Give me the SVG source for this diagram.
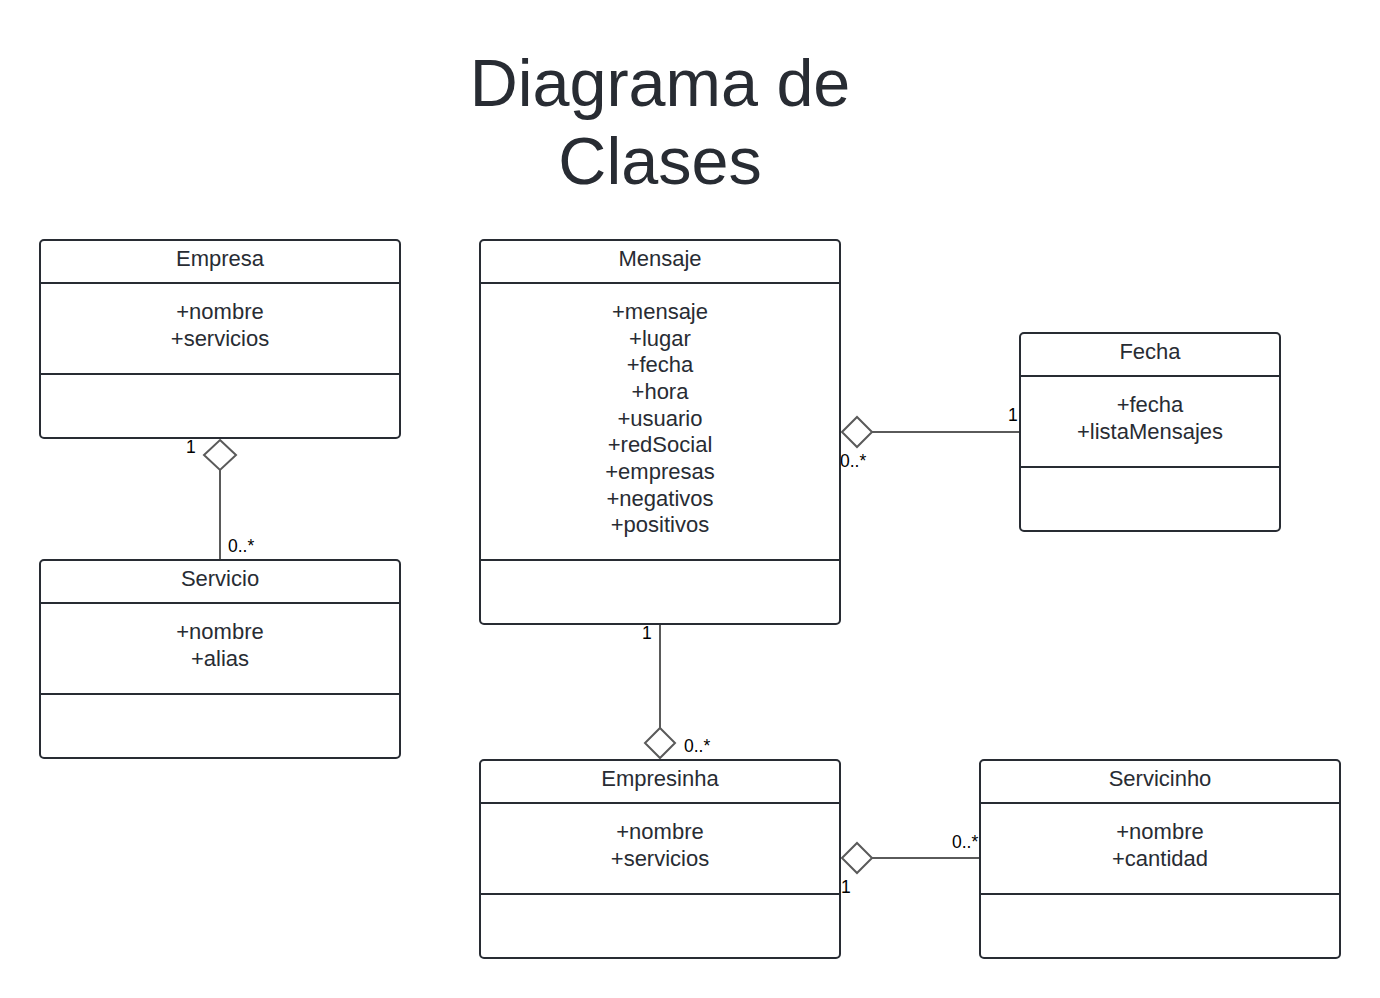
<svg xmlns="http://www.w3.org/2000/svg" width="1380" height="998" viewBox="0 0 1380 998">
<style>
.box{fill:#fff;stroke:#282c33;stroke-width:2}
.div{stroke:#282c33;stroke-width:2}
.t{font-family:"Liberation Sans",Arial,sans-serif;fill:#282c33;text-anchor:middle}
.h{font-size:22px}
.a{font-size:22px}
.title{font-size:66.5px}
.c{fill:none;stroke:#5a5a5a;stroke-width:2}
.d{fill:#fff;stroke:#5a5a5a;stroke-width:2}
.l{font-family:"Liberation Sans",Arial,sans-serif;font-size:17.5px;fill:#000}
</style>
<rect width="1380" height="998" fill="#fff"/>
<g id="title">
<text class="t title" x="660" y="106">Diagrama de</text>
<text class="t title" x="660" y="184">Clases</text>
</g>
<g id="connectors">
<line class="c" x1="220" y1="470" x2="220" y2="560"/>
<polygon class="d" points="220,440 236,455 220,470 204,455"/>
<text class="l" x="186" y="453">1</text>
<text class="l" x="228" y="552">0..*</text>
<line class="c" x1="872" y1="432" x2="1020" y2="432"/>
<polygon class="d" points="842,432 857,417 872,432 857,447"/>
<text class="l" x="1008" y="421">1</text>
<text class="l" x="840" y="467">0..*</text>
<line class="c" x1="660" y1="624" x2="660" y2="728"/>
<polygon class="d" points="660,728 675,743 660,758 645,743"/>
<text class="l" x="642" y="639">1</text>
<text class="l" x="684" y="752">0..*</text>
<line class="c" x1="872" y1="858" x2="980" y2="858"/>
<polygon class="d" points="842,858 857,843 872,858 857,873"/>
<text class="l" x="952" y="848">0..*</text>
<text class="l" x="841" y="893">1</text>
</g>
<g id="Empresa">
<rect class="box" x="40" y="240" width="360" height="198" rx="4"/>
<line class="div" x1="40" y1="283" x2="400" y2="283"/>
<line class="div" x1="40" y1="374" x2="400" y2="374"/>
<text class="t h" x="220" y="266">Empresa</text>
<text class="t a" x="220" y="319">+nombre</text>
<text class="t a" x="220" y="346">+servicios</text>
</g>
<g id="Servicio">
<rect class="box" x="40" y="560" width="360" height="198" rx="4"/>
<line class="div" x1="40" y1="603" x2="400" y2="603"/>
<line class="div" x1="40" y1="694" x2="400" y2="694"/>
<text class="t h" x="220" y="586">Servicio</text>
<text class="t a" x="220" y="639">+nombre</text>
<text class="t a" x="220" y="666">+alias</text>
</g>
<g id="Mensaje">
<rect class="box" x="480" y="240" width="360" height="384" rx="4"/>
<line class="div" x1="480" y1="283" x2="840" y2="283"/>
<line class="div" x1="480" y1="560" x2="840" y2="560"/>
<text class="t h" x="660" y="266">Mensaje</text>
<text class="t a" x="660" y="319">+mensaje</text>
<text class="t a" x="660" y="346">+lugar</text>
<text class="t a" x="660" y="372">+fecha</text>
<text class="t a" x="660" y="399">+hora</text>
<text class="t a" x="660" y="426">+usuario</text>
<text class="t a" x="660" y="452">+redSocial</text>
<text class="t a" x="660" y="479">+empresas</text>
<text class="t a" x="660" y="506">+negativos</text>
<text class="t a" x="660" y="532">+positivos</text>
</g>
<g id="Fecha">
<rect class="box" x="1020" y="333" width="260" height="198" rx="4"/>
<line class="div" x1="1020" y1="376" x2="1280" y2="376"/>
<line class="div" x1="1020" y1="467" x2="1280" y2="467"/>
<text class="t h" x="1150" y="359">Fecha</text>
<text class="t a" x="1150" y="412">+fecha</text>
<text class="t a" x="1150" y="439">+listaMensajes</text>
</g>
<g id="Empresinha">
<rect class="box" x="480" y="760" width="360" height="198" rx="4"/>
<line class="div" x1="480" y1="803" x2="840" y2="803"/>
<line class="div" x1="480" y1="894" x2="840" y2="894"/>
<text class="t h" x="660" y="786">Empresinha</text>
<text class="t a" x="660" y="839">+nombre</text>
<text class="t a" x="660" y="866">+servicios</text>
</g>
<g id="Servicinho">
<rect class="box" x="980" y="760" width="360" height="198" rx="4"/>
<line class="div" x1="980" y1="803" x2="1340" y2="803"/>
<line class="div" x1="980" y1="894" x2="1340" y2="894"/>
<text class="t h" x="1160" y="786">Servicinho</text>
<text class="t a" x="1160" y="839">+nombre</text>
<text class="t a" x="1160" y="866">+cantidad</text>
</g>
</svg>
